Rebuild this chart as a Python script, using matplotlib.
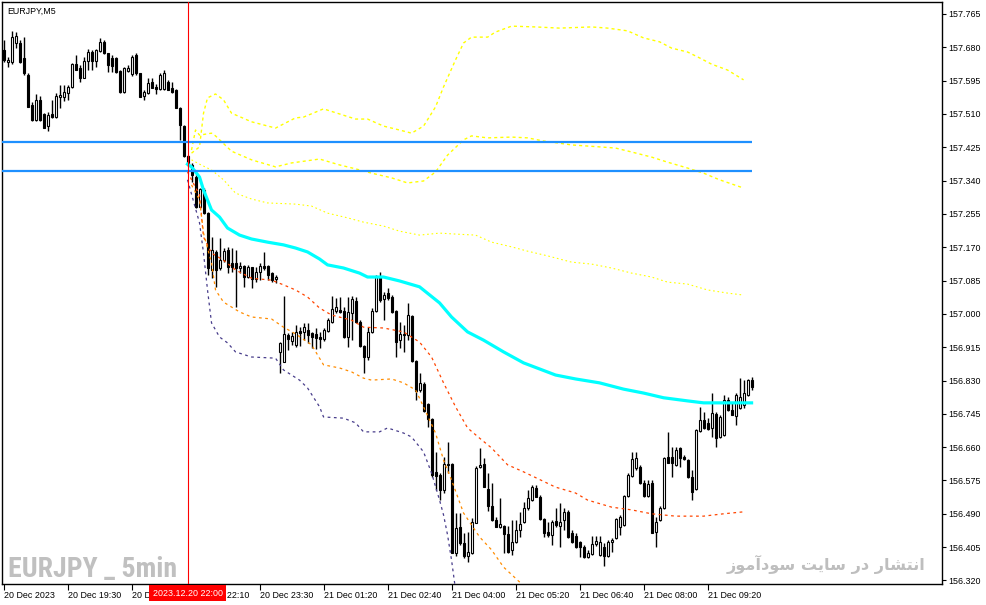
import matplotlib
matplotlib.use("Agg")
import matplotlib.pyplot as plt
import matplotlib.transforms as mtransforms
from matplotlib import font_manager

plt.rcParams['font.family'] = ['Liberation Sans', 'DejaVu Sans']

symbol = "EURJPY,M5"
watermark = "EURJPY _ 5min"
site_text = "انتشار در سایت سودآموز"
cursor_bar = 46
cursor_label = "2023.12.20 22:00"

# OHLC of the 5 minute bars, left to right
opens = [157.673, 157.642, 157.642, 157.691, 157.691, 157.653, 157.609, 157.533, 157.495, 157.546,
         157.510, 157.479, 157.510, 157.502, 157.553, 157.553, 157.563, 157.579, 157.637, 157.627,
         157.602, 157.645, 157.668, 157.645, 157.671, 157.694, 157.666, 157.653, 157.653, 157.620,
         157.566, 157.620, 157.612, 157.660, 157.615, 157.556, 157.563, 157.592, 157.579, 157.574,
         157.574, 157.592, 157.576, 157.571, 157.525, 157.479, 157.403, 157.380, 157.349, 157.273,
         157.316, 157.257, 157.112, 157.158, 157.117, 157.137, 157.163, 157.130, 157.130, 157.117,
         157.122, 157.094, 157.119, 157.089, 157.107, 157.122, 157.122, 157.104, 157.089, 156.903,
         156.877, 156.946, 156.931, 156.921, 156.956, 156.954, 156.959, 156.951, 156.949, 156.941,
         156.936, 156.956, 156.979, 157.007, 157.010, 157.007, 156.941, 157.002, 157.033, 156.979,
         156.918, 156.890, 156.954, 157.007, 157.094, 157.038, 157.053, 157.043, 157.007, 156.933,
         156.946, 156.946, 156.994, 156.880, 156.806, 156.821, 156.770, 156.732, 156.597, 156.589,
         156.551, 156.617, 156.617, 156.390, 156.456, 156.416, 156.382, 156.390, 156.467, 156.609,
         156.617, 156.553, 156.509, 156.474, 156.456, 156.459, 156.439, 156.398, 156.418, 156.449,
         156.469, 156.505, 156.525, 156.556, 156.533, 156.477, 156.444, 156.436, 156.472, 156.459,
         156.474, 156.495, 156.441, 156.433, 156.418, 156.405, 156.380, 156.387, 156.413, 156.385,
         156.405, 156.382, 156.418, 156.428, 156.456, 156.462, 156.535, 156.586, 156.607, 156.609,
         156.568, 156.535, 156.568, 156.444, 156.474, 156.505, 156.635, 156.635, 156.615, 156.658,
         156.635, 156.627, 156.584, 156.553, 156.701, 156.729, 156.722, 156.709, 156.745, 156.686,
         156.691, 156.780, 156.755, 156.740, 156.760, 156.768, 156.793, 156.831]
highs = [157.699, 157.655, 157.722, 157.719, 157.699, 157.706, 157.615, 157.540, 157.561, 157.556,
         157.512, 157.515, 157.546, 157.563, 157.584, 157.584, 157.584, 157.640, 157.660, 157.635,
         157.655, 157.676, 157.673, 157.676, 157.704, 157.699, 157.666, 157.660, 157.655, 157.622,
         157.630, 157.635, 157.660, 157.666, 157.615, 157.571, 157.602, 157.602, 157.587, 157.615,
         157.622, 157.597, 157.592, 157.574, 157.528, 157.482, 157.405, 157.385, 157.354, 157.321,
         157.321, 157.260, 157.196, 157.163, 157.193, 157.168, 157.171, 157.168, 157.163, 157.132,
         157.125, 157.125, 157.119, 157.119, 157.130, 157.158, 157.125, 157.107, 157.099, 156.928,
         157.045, 156.951, 156.954, 156.972, 156.966, 156.977, 156.977, 156.954, 156.964, 156.954,
         156.964, 156.989, 157.045, 157.040, 157.043, 157.017, 157.043, 157.045, 157.043, 156.984,
         156.921, 156.966, 157.015, 157.099, 157.107, 157.056, 157.066, 157.048, 157.010, 156.979,
         156.972, 157.028, 156.997, 156.882, 156.849, 156.826, 156.773, 156.734, 156.648, 156.594,
         156.635, 156.673, 156.620, 156.492, 156.492, 156.441, 156.444, 156.479, 156.612, 156.658,
         156.632, 156.594, 156.568, 156.482, 156.530, 156.462, 156.459, 156.474, 156.474, 156.495,
         156.520, 156.551, 156.563, 156.563, 156.538, 156.479, 156.469, 156.474, 156.505, 156.517,
         156.505, 156.500, 156.449, 156.441, 156.421, 156.411, 156.398, 156.433, 156.433, 156.433,
         156.416, 156.423, 156.428, 156.479, 156.487, 156.538, 156.594, 156.648, 156.648, 156.615,
         156.576, 156.576, 156.576, 156.482, 156.509, 156.635, 156.699, 156.660, 156.660, 156.660,
         156.640, 156.630, 156.602, 156.706, 156.763, 156.750, 156.734, 156.798, 156.750, 156.742,
         156.793, 156.788, 156.773, 156.798, 156.837, 156.831, 156.834, 156.839]
lows = [157.642, 157.630, 157.637, 157.678, 157.640, 157.609, 157.528, 157.492, 157.492, 157.492,
        157.474, 157.467, 157.500, 157.500, 157.525, 157.543, 157.546, 157.576, 157.622, 157.592,
        157.602, 157.622, 157.622, 157.630, 157.668, 157.663, 157.617, 157.617, 157.615, 157.563,
        157.563, 157.617, 157.607, 157.609, 157.553, 157.546, 157.561, 157.576, 157.561, 157.571,
        157.571, 157.571, 157.563, 157.525, 157.444, 157.400, 157.377, 157.336, 157.270, 157.273,
        157.255, 157.099, 157.091, 157.069, 157.112, 157.132, 157.104, 157.107, 157.017, 157.104,
        157.069, 157.091, 157.066, 157.081, 157.086, 157.112, 157.086, 157.081, 157.079, 156.849,
        156.877, 156.908, 156.921, 156.915, 156.918, 156.933, 156.926, 156.913, 156.910, 156.913,
        156.931, 156.954, 156.977, 157.002, 157.002, 156.938, 156.915, 156.933, 156.977, 156.915,
        156.849, 156.882, 156.951, 157.005, 157.030, 156.984, 157.035, 157.002, 156.890, 156.913,
        156.903, 156.933, 156.877, 156.780, 156.801, 156.750, 156.711, 156.584, 156.551, 156.525,
        156.543, 156.594, 156.390, 156.382, 156.411, 156.377, 156.367, 156.387, 156.467, 156.607,
        156.558, 156.497, 156.472, 156.456, 156.454, 156.390, 156.390, 156.385, 156.416, 156.431,
        156.467, 156.500, 156.523, 156.533, 156.474, 156.431, 156.431, 156.411, 156.456, 156.405,
        156.449, 156.428, 156.416, 156.403, 156.380, 156.377, 156.377, 156.385, 156.408, 156.382,
        156.357, 156.380, 156.393, 156.426, 156.436, 156.459, 156.533, 156.584, 156.602, 156.566,
        156.533, 156.533, 156.441, 156.405, 156.472, 156.502, 156.620, 156.584, 156.612, 156.609,
        156.627, 156.581, 156.525, 156.551, 156.699, 156.706, 156.704, 156.686, 156.660, 156.683,
        156.689, 156.752, 156.742, 156.717, 156.758, 156.760, 156.791, 156.806]
closes = [157.648, 157.648, 157.706, 157.709, 157.642, 157.615, 157.528, 157.495, 157.546, 157.495,
          157.474, 157.507, 157.502, 157.556, 157.558, 157.566, 157.579, 157.637, 157.622, 157.602,
          157.645, 157.668, 157.645, 157.673, 157.694, 157.666, 157.635, 157.632, 157.617, 157.566,
          157.627, 157.627, 157.655, 157.615, 157.553, 157.566, 157.589, 157.576, 157.574, 157.609,
          157.615, 157.571, 157.566, 157.525, 157.482, 157.403, 157.380, 157.354, 157.273, 157.318,
          157.257, 157.117, 157.163, 157.112, 157.137, 157.160, 157.119, 157.119, 157.117, 157.122,
          157.094, 157.119, 157.089, 157.107, 157.122, 157.117, 157.099, 157.086, 157.094, 156.926,
          156.949, 156.936, 156.944, 156.954, 156.951, 156.966, 156.946, 156.941, 156.938, 156.936,
          156.959, 156.984, 157.012, 157.017, 157.005, 156.941, 157.005, 157.038, 156.979, 156.918,
          156.890, 156.954, 157.007, 157.094, 157.035, 157.048, 157.040, 157.005, 156.928, 156.949,
          156.949, 156.997, 156.880, 156.803, 156.824, 156.752, 156.732, 156.589, 156.586, 156.551,
          156.617, 156.615, 156.390, 156.454, 156.416, 156.382, 156.393, 156.469, 156.607, 156.615,
          156.558, 156.509, 156.474, 156.456, 156.464, 156.439, 156.393, 156.418, 156.449, 156.464,
          156.505, 156.530, 156.558, 156.533, 156.477, 156.441, 156.436, 156.469, 156.462, 156.469,
          156.495, 156.431, 156.418, 156.405, 156.405, 156.380, 156.390, 156.413, 156.421, 156.418,
          156.382, 156.418, 156.423, 156.477, 156.482, 156.535, 156.589, 156.630, 156.632, 156.568,
          156.535, 156.566, 156.441, 156.469, 156.505, 156.632, 156.620, 156.620, 156.653, 156.632,
          156.630, 156.584, 156.546, 156.704, 156.729, 156.709, 156.706, 156.747, 156.683, 156.737,
          156.780, 156.755, 156.742, 156.793, 156.788, 156.798, 156.831, 156.813]

# indicator lines, sampled at these bar numbers
y1_bars = [47, 49, 50, 51, 53, 55, 57, 62, 68, 73, 75, 80, 84, 88, 91, 95, 99, 102, 105, 108,
           110, 113, 115, 117, 121, 123, 127, 133, 139, 147, 151, 156, 160, 164, 167, 171, 174, 177, 181, 185]
y1_vals = [157.410, 157.426, 157.512, 157.551, 157.561, 157.546, 157.512, 157.490, 157.474, 157.500,
           157.502, 157.523, 157.510, 157.497, 157.497, 157.479, 157.469, 157.461, 157.479, 157.528,
           157.579, 157.648, 157.691, 157.706, 157.706, 157.719, 157.734, 157.732, 157.729, 157.732,
           157.729, 157.722, 157.704, 157.694, 157.678, 157.668, 157.653, 157.637, 157.622, 157.597]
y2_bars = [47, 48, 49, 52, 53, 57, 62, 68, 72, 79, 84, 88, 92, 97, 101, 105, 108, 111, 115, 117,
           121, 127, 131, 135, 142, 149, 153, 157, 162, 166, 171, 175, 179, 185]
y2_vals = [157.418, 157.469, 157.456, 157.461, 157.454, 157.415, 157.393, 157.375, 157.385, 157.395,
           157.380, 157.370, 157.359, 157.347, 157.334, 157.339, 157.362, 157.405, 157.444, 157.454,
           157.449, 157.451, 157.449, 157.441, 157.431, 157.426, 157.423, 157.413, 157.400, 157.387,
           157.372, 157.359, 157.342, 157.321]
y3_bars = [47, 49, 52, 55, 58, 62, 66, 73, 77, 81, 86, 90, 95, 99, 104, 109, 114, 118, 122, 127,
           131, 136, 142, 147, 152, 157, 162, 166, 171, 176, 181, 185]
y3_vals = [157.393, 157.382, 157.367, 157.342, 157.308, 157.293, 157.283, 157.280, 157.275, 157.257,
           157.245, 157.234, 157.224, 157.211, 157.201, 157.206, 157.203, 157.201, 157.183, 157.171,
           157.160, 157.148, 157.132, 157.127, 157.117, 157.104, 157.094, 157.081, 157.076, 157.061,
           157.053, 157.048]
ma_bars = [46, 47, 49, 50, 52, 54, 56, 59, 62, 66, 70, 73, 76, 79, 81, 85, 89, 91, 95, 99,
           104, 109, 112, 116, 120, 125, 130, 138, 143, 149, 155, 160, 165, 171, 175, 181, 187]
ma_vals = [157.382, 157.375, 157.349, 157.316, 157.265, 157.247, 157.219, 157.201, 157.191, 157.183,
           157.176, 157.168, 157.158, 157.140, 157.125, 157.117, 157.104, 157.094, 157.094, 157.084,
           157.069, 157.028, 156.992, 156.954, 156.933, 156.903, 156.875, 156.844, 156.834, 156.824,
           156.808, 156.798, 156.786, 156.778, 156.773, 156.773, 156.773]
or1_bars = [46, 49, 50, 52, 55, 58, 62, 67, 70, 73, 76, 79, 82, 87, 90, 95, 100, 104, 107, 110,
            113, 116, 119, 122, 126, 130, 138, 143, 146, 152, 157, 162, 168, 175, 180, 185]
or1_vals = [157.362, 157.303, 157.196, 157.155, 157.137, 157.112, 157.091, 157.086, 157.074, 157.061,
            157.043, 157.015, 156.997, 156.984, 156.966, 156.964, 156.954, 156.928, 156.890, 156.824,
            156.763, 156.709, 156.683, 156.658, 156.615, 156.597, 156.558, 156.543, 156.525, 156.507,
            156.500, 156.490, 156.484, 156.484, 156.490, 156.495]
or2_bars = [47, 49, 50, 52, 53, 55, 59, 62, 67, 70, 73, 77, 80, 84, 87, 90, 92, 97, 100, 103,
            105, 108, 110, 112, 115, 119, 122, 125, 129, 131]
or2_vals = [157.329, 157.291, 157.206, 157.130, 157.061, 157.030, 157.005, 156.992, 156.987, 156.966,
            156.949, 156.921, 156.870, 156.862, 156.852, 156.836, 156.831, 156.834, 156.824, 156.806,
            156.763, 156.696, 156.627, 156.576, 156.492, 156.431, 156.398, 156.354, 156.316, 156.296]
nv_bars = [46, 49, 50, 51, 52, 54, 56, 58, 62, 68, 70, 74, 76, 79, 80, 85, 88, 90, 94, 96,
           100, 102, 105, 107, 109, 110, 111, 112, 113]
nv_vals = [157.342, 157.232, 157.155, 157.061, 156.977, 156.941, 156.926, 156.903, 156.890, 156.887,
           156.857, 156.831, 156.811, 156.763, 156.737, 156.734, 156.722, 156.699, 156.699, 156.709,
           156.696, 156.686, 156.648, 156.594, 156.525, 156.487, 156.436, 156.372, 156.296]

levels = [157.438, 157.364]

price_ticks = [156.320, 156.405, 156.490, 156.575, 156.660, 156.745, 156.830, 156.915, 157.000,
               157.085, 157.170, 157.255, 157.340, 157.425, 157.510, 157.595, 157.680, 157.765]
time_ticks = [0, 16, 32, 48, 64, 80, 96, 112, 128, 144, 160, 176]
time_labels = ["20 Dec 2023", "20 Dec 19:30", "20 Dec 20:50", "20 Dec 22:10", "20 Dec 23:30",
               "21 Dec 01:20", "21 Dec 02:40", "21 Dec 04:00", "21 Dec 05:20", "21 Dec 06:40",
               "21 Dec 08:00", "21 Dec 09:20"]

# arabic letters: isolated, final, initial, medial
ARABIC_FORMS = {
    'ا': ('\uFE8D', '\uFE8E', None, None),
    'آ': ('\uFE81', '\uFE82', None, None),
    'ن': ('\uFEE5', '\uFEE6', '\uFEE7', '\uFEE8'),
    'ت': ('\uFE95', '\uFE96', '\uFE97', '\uFE98'),
    'ش': ('\uFEB5', '\uFEB6', '\uFEB7', '\uFEB8'),
    'ر': ('\uFEAD', '\uFEAE', None, None),
    'د': ('\uFEA9', '\uFEAA', None, None),
    'س': ('\uFEB1', '\uFEB2', '\uFEB3', '\uFEB4'),
    'ی': ('\uFBFC', '\uFBFD', '\uFBFE', '\uFBFF'),
    'و': ('\uFEED', '\uFEEE', None, None),
    'م': ('\uFEE1', '\uFEE2', '\uFEE3', '\uFEE4'),
    'ز': ('\uFEAF', '\uFEB0', None, None),
}


def shape_rtl(text):
    # matplotlib has no arabic shaping, so pick the joined forms by hand
    out = []
    for k, ch in enumerate(text):
        forms = ARABIC_FORMS.get(ch)
        if forms is None:
            out.append(ch)
            continue
        prev = text[k - 1] if k > 0 else ''
        nxt = text[k + 1] if k + 1 < len(text) else ''
        joins_prev = prev in ARABIC_FORMS and ARABIC_FORMS[prev][2] is not None
        joins_next = forms[2] is not None and nxt in ARABIC_FORMS
        if joins_prev and joins_next:
            out.append(forms[3])
        elif joins_prev:
            out.append(forms[1])
        elif joins_next:
            out.append(forms[2])
        else:
            out.append(forms[0])
    return ''.join(reversed(out))


def narrow_font():
    names = {f.name for f in font_manager.fontManager.ttflist}
    for cand in ['Liberation Sans Narrow', 'Roboto Condensed', 'Open Sans Condensed', 'Arial Narrow']:
        if cand in names:
            return dict(family=[cand, 'DejaVu Sans'])
    return dict(family=['Liberation Sans', 'DejaVu Sans'])


def fit_width(txt, target_px, renderer):
    w = txt.get_window_extent(renderer).width
    txt.set_fontsize(txt.get_fontsize() * target_px / w)


W, H = 987, 605
fig = plt.figure(figsize=(W / 100, H / 100), dpi=100)
ax = fig.add_axes([2.5 / W, 21 / H, 939.5 / W, 582 / H])
ax.set_xlim(-0.25, 234.6)
ax.set_ylim(156.3109, 157.7956)

# candles
bars = list(range(len(closes)))
ax.vlines(bars, lows, highs, color='black', linewidth=1.0, zorder=3)
for i in bars:
    o, c = opens[i], closes[i]
    up = c >= o
    bottom = min(o, c)
    height = max(abs(c - o), 0.0004)
    ax.bar(i, height, bottom=bottom, width=0.5, color='white' if up else 'black',
           edgecolor='black', linewidth=0.8, zorder=4)

# indicators
ax.plot(y1_bars, y1_vals, color='#FFFF00', linewidth=1.0, linestyle=(0, (2.2, 2.2)), zorder=5)
ax.plot(y2_bars, y2_vals, color='#FFFF00', linewidth=1.0, linestyle=(0, (2.2, 2.2)), zorder=5)
ax.plot(y3_bars, y3_vals, color='#FFFF00', linewidth=0.8, linestyle=(0, (1.5, 2.5)), zorder=5)
ax.plot(ma_bars, ma_vals, color='#00FFFF', linewidth=2.3, zorder=6)
ax.plot(or1_bars, or1_vals, color='#FF4500', linewidth=0.9, linestyle=(0, (2.2, 2.8)), zorder=5)
ax.plot(or2_bars, or2_vals, color='#FF8C00', linewidth=0.9, linestyle=(0, (2.2, 2.8)), zorder=5)
ax.plot(nv_bars, nv_vals, color='#483D8B', linewidth=0.9, linestyle=(0, (2.2, 2.8)), zorder=5)

for lv in levels:
    ax.plot([-0.25, 187.2], [lv, lv], color='#1E90FF', linewidth=1.6, zorder=7,
            solid_capstyle='butt')

ax.axvline(cursor_bar, color='#FF0000', linewidth=0.8, zorder=7)

# axes look
for sp in ax.spines.values():
    sp.set_color('black')
    sp.set_linewidth(1.0)
ax.yaxis.tick_right()
ax.set_yticks(price_ticks)
ax.set_yticklabels([f"{p:.3f}" for p in price_ticks])
ax.set_xticks(time_ticks)
ax.set_xticklabels(time_labels, ha='left')
ax.tick_params(axis='y', direction='out', length=3, width=0.8, labelsize=6.4, pad=1.5, colors='black')
ax.tick_params(axis='x', direction='out', length=4, width=0.8, labelsize=6.4, pad=0.7, colors='black')

tr = mtransforms.blended_transform_factory(ax.transData, ax.transAxes)
ax.text(cursor_bar, -0.0155, cursor_label, transform=tr, ha='center', va='center',
        color='white', fontsize=6.4, zorder=20, clip_on=False,
        bbox=dict(boxstyle='square,pad=0.35', facecolor='#FF0000', edgecolor='none'))

ax.text(0.0048, 0.9845, symbol, transform=ax.transAxes, ha='left', va='center',
        fontsize=6.4, color='black', zorder=20)

# watermarks, sized to the width they take in the picture
renderer = fig.canvas.get_renderer()
wm = fig.text(8 / W, (H - 577) / H, watermark, ha='left', va='baseline',
              fontsize=20, fontweight='bold', color='#C0C0C0', zorder=1, **narrow_font())
fit_width(wm, 169, renderer)
site = fig.text(826.5 / W, (H - 564) / H, shape_rtl(site_text), ha='center', va='center',
                fontsize=15, fontweight='bold', color='#BEBEBE', zorder=1, family=['DejaVu Sans'])
fit_width(site, 199, renderer)

fig.savefig("out.png", dpi=100, facecolor='white')
